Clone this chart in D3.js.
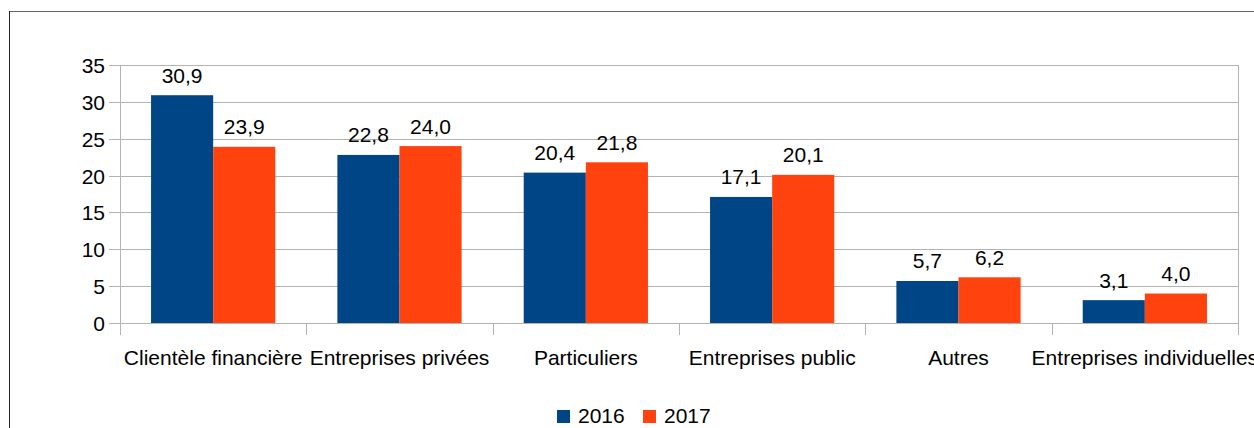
<!DOCTYPE html>
<html><head><meta charset="utf-8">
<script src="https://cdn.jsdelivr.net/npm/d3@7"></script>
<style>html,body{margin:0;padding:0;background:#fff;overflow:hidden}</style>
</head><body>
<svg id="c" width="1254" height="428"></svg>
<script>
const categories = ["Clientèle financière","Entreprises privées","Particuliers","Entreprises public","Autres","Entreprises individuelles"];
const series = ["2016","2017"];
const values2016 = [30.9,22.8,20.4,17.1,5.7,3.1];
const values2017 = [23.9,24.0,21.8,20.1,6.2,4.0];
const yTicks = [0,5,10,15,20,25,30,35];
const colors = ["#004586","#ff420e"];

(function(){
const svg = d3.select("#c");
const font = "'Liberation Sans', Arial, sans-serif";
const fs = 21;
const pL = 120, pR = 1238, pT = 65, pB = 323;

// border
svg.append("line").attr("x1",9.5).attr("x2",1254).attr("y1",11.5).attr("y2",11.5).attr("stroke","#666").attr("stroke-width",1);
svg.append("line").attr("x1",9.5).attr("x2",9.5).attr("y1",11).attr("y2",428).attr("stroke","#222").attr("stroke-width",1);

const x = d3.scaleBand().domain(categories).range([pL,pR]);
const xi = d3.scaleBand().domain(series).range([0,x.bandwidth()]).paddingOuter(0.5);
const y = d3.scaleLinear().domain([0,35]).range([pB,pT]);

// gridlines
svg.append("g").selectAll("line").data(yTicks).join("line")
  .attr("x1",pL-11).attr("x2",pR)
  .attr("y1",d=>Math.round(y(d))+0.5).attr("y2",d=>Math.round(y(d))+0.5)
  .attr("stroke","#b3b3b3").attr("stroke-width",1);
svg.append("line").attr("x1",pR+0.5).attr("x2",pR+0.5).attr("y1",pT).attr("y2",pB).attr("stroke","#b3b3b3");

// y axis
const yAxis = d3.axisLeft(y).tickValues(yTicks).tickSize(0).tickPadding(15).tickFormat(d=>d);
const gy = svg.append("g").attr("transform",`translate(${pL},0)`).call(yAxis);
gy.select(".domain").remove();
gy.selectAll("text").attr("font-family",font).attr("font-size",fs).attr("fill","#000").attr("dy","0.36em");
svg.append("line").attr("x1",pL+0.5).attr("x2",pL+0.5).attr("y1",pT).attr("y2",pB+12).attr("stroke","#b3b3b3");

// x axis ticks
const bounds = categories.map(c=>x(c)).concat([pR]);
svg.append("g").selectAll("line").data(bounds).join("line")
  .attr("x1",d=>Math.round(d)+0.5).attr("x2",d=>Math.round(d)+0.5)
  .attr("y1",pB).attr("y2",pB+12).attr("stroke","#b3b3b3");
const xAxis = d3.axisBottom(x).tickSize(0).tickPadding(0);
const gx = svg.append("g").attr("transform",`translate(0,${pB})`).call(xAxis);
gx.select(".domain").remove();
gx.selectAll("text").attr("font-family",font).attr("font-size",fs).attr("fill","#000").attr("y",42).attr("dy",0);

// bars
const data = categories.map((c,i)=>({c, vals:[values2016[i],values2017[i]]}));
const groups = svg.append("g").selectAll("g").data(data).join("g").attr("transform",d=>`translate(${x(d.c)},0)`);
groups.selectAll("rect").data(d=>d.vals.map((v,j)=>({v,s:series[j],j}))).join("rect")
  .attr("x",d=>xi(d.s)).attr("width",xi.bandwidth())
  .attr("y",d=>y(d.v)).attr("height",d=>y(0)-y(d.v))
  .attr("fill",d=>colors[d.j]);
groups.selectAll("text").data(d=>d.vals.map((v,j)=>({v,s:series[j],j}))).join("text")
  .attr("x",d=>xi(d.s)+xi.bandwidth()/2).attr("y",d=>y(d.v)-12.5)
  .attr("text-anchor","middle").attr("font-family",font).attr("font-size",fs).attr("fill","#000")
  .text(d=>d.v.toFixed(1).replace(".",","));

// legend
const legX = [557,643];
const lg = svg.append("g").selectAll("g").data(series).join("g").attr("transform",(d,i)=>`translate(${legX[i]},0)`);
lg.append("rect").attr("x",0).attr("y",410).attr("width",13).attr("height",13).attr("fill",(d,i)=>colors[i]);
lg.append("text").attr("x",21).attr("y",423).attr("font-family",font).attr("font-size",fs).attr("fill","#000").text(d=>d);
})();
</script>
</body></html>
